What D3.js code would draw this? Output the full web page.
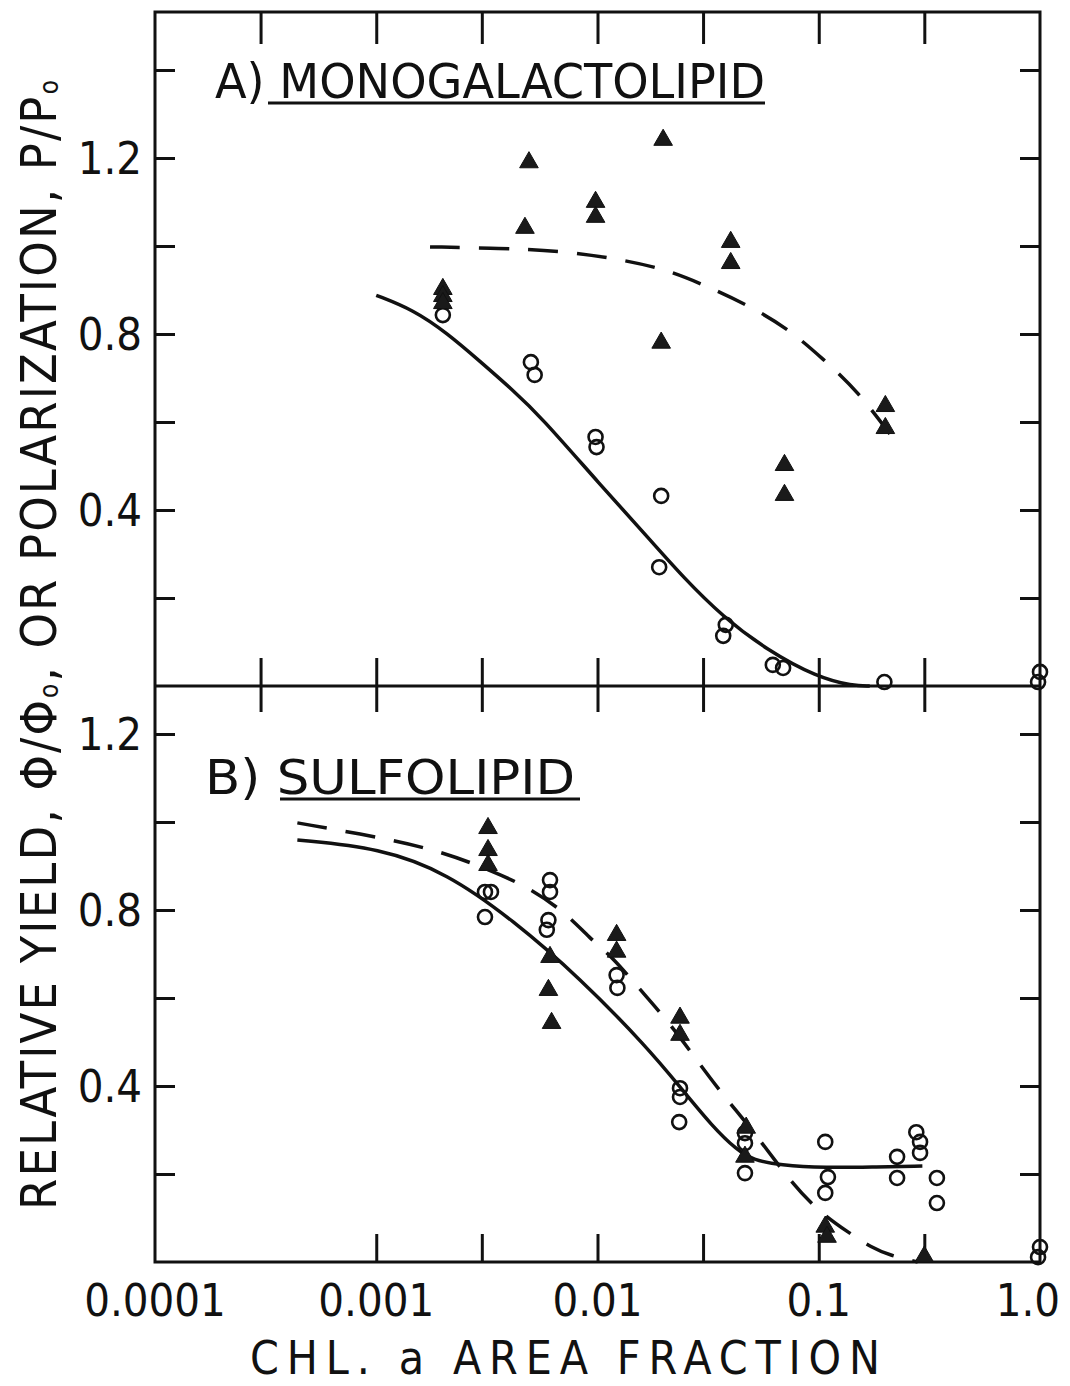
<!DOCTYPE html>
<html>
<head>
<meta charset="utf-8">
<script src="https://cdn.jsdelivr.net/npm/d3@7"></script>
<style>
  body { margin: 0; background: #fff; }
  text { font-family: "Liberation Sans Narrow", "DejaVu Sans Condensed", "Liberation Sans", sans-serif; fill: #111; }
</style>
</head>
<body>
<div id="chart"></div>
<script>
// ---- axis ticks / labels ----
const xMinorTicks = [0.0003, 0.001, 0.003, 0.01, 0.03, 0.1, 0.3];
const xBottomTicks = [0.001, 0.003, 0.01, 0.03, 0.1, 0.3];
const xLabelValues = [0.0001, 0.001, 0.01, 0.1, 1];
const xLabels = ['0.0001', '0.001', '0.01', '0.1', '1.0'];
const yTicksA = [0.2, 0.4, 0.6, 0.8, 1.0, 1.2, 1.4];
const yTicksB = [0.2, 0.4, 0.6, 0.8, 1.0, 1.2];
const yLabelValues = [0.4, 0.8, 1.2];

// ---- A) monogalactolipid ----
const monoCircles = [
  [0.002, 0.843], [0.005, 0.736], [0.0052, 0.707], [0.0098, 0.566], [0.0099, 0.543],
  [0.0194, 0.432], [0.019, 0.27], [0.038, 0.139], [0.037, 0.114],
  [0.062, 0.048], [0.069, 0.041], [0.198, 0.009], [1.0, 0.032], [0.98, 0.009]
];
const monoTriangles = [
  [0.002, 0.902], [0.002, 0.886], [0.002, 0.870], [0.0049, 1.19], [0.0047, 1.041],
  [0.0098, 1.10], [0.0098, 1.066], [0.0198, 1.241], [0.0194, 0.78],
  [0.040, 1.009], [0.040, 0.961], [0.070, 0.502], [0.070, 0.434],
  [0.2, 0.636], [0.2, 0.586]
];
const monoSolid = [
  [0.001, 0.888], [0.00147, 0.855], [0.00209, 0.802], [0.00294, 0.738], [0.00415, 0.672],
  [0.0055, 0.614], [0.0103, 0.457], [0.0173, 0.332], [0.0243, 0.248], [0.0369, 0.157],
  [0.0583, 0.082], [0.098, 0.02], [0.143, 0.0], [0.17, 0.0]
];
const monoDashed = [
  [0.00175, 0.998], [0.00362, 0.995], [0.00677, 0.989], [0.0116, 0.973], [0.0195, 0.95],
  [0.029, 0.916], [0.0479, 0.866], [0.0742, 0.809], [0.1045, 0.743], [0.149, 0.673],
  [0.228, 0.548]
];

// ---- B) sulfolipid ----
const sulfoCircles = [
  [0.0031, 0.841], [0.0033, 0.841], [0.0031, 0.784],
  [0.0061, 0.868], [0.0061, 0.841], [0.006, 0.777], [0.0059, 0.755],
  [0.0122, 0.652], [0.0123, 0.623],
  [0.0236, 0.395], [0.0236, 0.375], [0.0234, 0.318],
  [0.0464, 0.293], [0.0464, 0.27], [0.0464, 0.202],
  [0.107, 0.273], [0.11, 0.193], [0.107, 0.157],
  [0.226, 0.239], [0.226, 0.191],
  [0.276, 0.295], [0.287, 0.273], [0.287, 0.248],
  [0.342, 0.191], [0.342, 0.134],
  [1.0, 0.034], [0.98, 0.011]
];
const sulfoTriangles = [
  [0.0032, 0.986], [0.0032, 0.936], [0.0032, 0.902],
  [0.0061, 0.693], [0.006, 0.618], [0.0062, 0.543],
  [0.0122, 0.743], [0.0122, 0.705],
  [0.0236, 0.555], [0.0236, 0.516],
  [0.047, 0.305], [0.0464, 0.239],
  [0.107, 0.08], [0.109, 0.057],
  [0.30, 0.012]
];
const sulfoSolid = [
  [0.00044, 0.959], [0.00104, 0.941], [0.00209, 0.884], [0.00415, 0.777], [0.00834, 0.645],
  [0.0167, 0.489], [0.0236, 0.398], [0.0332, 0.307], [0.0426, 0.255], [0.0504, 0.232],
  [0.0666, 0.22], [0.108, 0.214], [0.175, 0.216], [0.294, 0.218]
];
const sulfoDashed = [
  [0.00044, 0.998], [0.00107, 0.964], [0.00194, 0.934], [0.00327, 0.891], [0.00495, 0.85],
  [0.0072, 0.793], [0.0092, 0.736], [0.0117, 0.693], [0.0152, 0.625], [0.0206, 0.55],
  [0.0271, 0.47], [0.036, 0.386], [0.0515, 0.293], [0.0723, 0.191], [0.098, 0.118],
  [0.137, 0.066], [0.175, 0.032], [0.21, 0.015], [0.28, 0.0]
];

const width = 1070, height = 1386;
const frame = { left: 155, right: 1040, top: 12, mid: 686, bottom: 1262 };

const svg = d3.select('#chart')
  .append('svg')
  .attr('width', width)
  .attr('height', height);

const x = d3.scaleLog().domain([0.0001, 1]).range([frame.left, frame.right]);
const yA = d3.scaleLinear().domain([0, (frame.mid - frame.top) / 440]).range([frame.mid, frame.top]);
const yB = d3.scaleLinear().domain([0, (frame.bottom - frame.mid) / 440]).range([frame.bottom, frame.mid]);

function styleAxis(g) {
  g.select('.domain').remove();
  g.selectAll('.tick line').attr('stroke', '#111').attr('stroke-width', 3);
  g.selectAll('.tick text').remove();
}

// x ticks
svg.append('g').attr('transform', `translate(0,${frame.top})`)
  .call(d3.axisTop(x).tickValues(xMinorTicks).tickSize(-32)).call(styleAxis);
svg.append('g').attr('transform', `translate(0,${frame.mid})`)
  .call(d3.axisBottom(x).tickValues(xMinorTicks).tickSize(-28)).call(styleAxis);
svg.append('g').attr('transform', `translate(0,${frame.mid})`)
  .call(d3.axisTop(x).tickValues(xMinorTicks).tickSize(-26)).call(styleAxis);
svg.append('g').attr('transform', `translate(0,${frame.bottom})`)
  .call(d3.axisBottom(x).tickValues(xBottomTicks).tickSize(-28)).call(styleAxis);

// y ticks, both sides, both panels
[[yA, yTicksA], [yB, yTicksB]].forEach(([y, ticks]) => {
  svg.append('g').attr('transform', `translate(${frame.left},0)`)
    .call(d3.axisLeft(y).tickValues(ticks).tickSize(-20)).call(styleAxis);
  svg.append('g').attr('transform', `translate(${frame.right},0)`)
    .call(d3.axisRight(y).tickValues(ticks).tickSize(-20)).call(styleAxis);
  svg.append('g').selectAll('text')
    .data(yLabelValues)
    .enter().append('text')
    .attr('x', 142)
    .attr('y', d => y(d))
    .attr('dy', '0.36em')
    .attr('text-anchor', 'end')
    .style('font-size', '45px')
    .text(d => d.toFixed(1));
});

// frame
svg.append('rect')
  .attr('x', frame.left).attr('y', frame.top)
  .attr('width', frame.right - frame.left).attr('height', frame.bottom - frame.top)
  .attr('fill', 'none').attr('stroke', '#111').attr('stroke-width', 3);
svg.append('line')
  .attr('x1', frame.left).attr('x2', frame.right).attr('y1', frame.mid).attr('y2', frame.mid)
  .attr('stroke', '#111').attr('stroke-width', 3);

// x labels (last one kept inside the page)
svg.append('g').selectAll('text')
  .data(xLabelValues)
  .enter().append('text')
  .attr('x', (d, i) => i === xLabelValues.length - 1 ? x(d) + 20 : x(d))
  .attr('y', 1316)
  .attr('text-anchor', (d, i) => i === xLabelValues.length - 1 ? 'end' : 'middle')
  .style('font-size', '45px')
  .text((d, i) => xLabels[i]);

// curves
function drawLine(data, y, dashed) {
  const line = d3.line()
    .x(d => x(d[0]))
    .y(d => y(d[1]))
    .curve(d3.curveBasis);
  svg.append('path')
    .datum(data)
    .attr('d', line)
    .attr('fill', 'none')
    .attr('stroke', '#111')
    .attr('stroke-width', 3.5)
    .attr('stroke-dasharray', dashed ? '30,19' : null);
}
drawLine(monoSolid, yA, false);
drawLine(monoDashed, yA, true);
drawLine(sulfoSolid, yB, false);
drawLine(sulfoDashed, yB, true);

// markers
function drawPoints(circles, triangles, y) {
  svg.append('g').selectAll('circle')
    .data(circles)
    .enter().append('circle')
    .attr('cx', d => x(d[0]))
    .attr('cy', d => y(d[1]))
    .attr('r', 7)
    .attr('fill', 'none')
    .attr('stroke', '#111')
    .attr('stroke-width', 2.6);
  svg.append('g').selectAll('path')
    .data(triangles)
    .enter().append('path')
    .attr('d', d3.symbol(d3.symbolTriangle, 150))
    .attr('transform', d => `translate(${x(d[0])},${y(d[1])})`)
    .attr('fill', '#1a1a1a')
    .attr('stroke', '#111')
    .attr('stroke-width', 1);
}
drawPoints(monoCircles, monoTriangles, yA);
drawPoints(sulfoCircles, sulfoTriangles, yB);

// panel titles
svg.append('text')
  .attr('x', 215).attr('y', 98)
  .attr('textLength', 550).attr('lengthAdjust', 'spacingAndGlyphs')
  .style('font-size', '48px')
  .text('A) MONOGALACTOLIPID');
svg.append('line')
  .attr('x1', 268).attr('x2', 765).attr('y1', 103).attr('y2', 103)
  .attr('stroke', '#111').attr('stroke-width', 3);
svg.append('text')
  .attr('x', 205).attr('y', 794)
  .attr('textLength', 370).attr('lengthAdjust', 'spacingAndGlyphs')
  .style('font-size', '48px')
  .text('B) SULFOLIPID');
svg.append('line')
  .attr('x1', 280).attr('x2', 580).attr('y1', 799).attr('y2', 799)
  .attr('stroke', '#111').attr('stroke-width', 3);

// axis titles
svg.append('text')
  .attr('x', 250).attr('y', 1374)
  .attr('textLength', 630).attr('lengthAdjust', 'spacing')
  .style('font-size', '46px')
  .text('CHL. a AREA FRACTION');

const yTitle = svg.append('text')
  .attr('transform', 'translate(56,1210) rotate(-90)')
  .attr('textLength', 1130).attr('lengthAdjust', 'spacing')
  .style('font-size', '50px');
yTitle.append('tspan').text('RELATIVE YIELD, Φ/Φ');
yTitle.append('tspan').attr('dy', '2').style('font-size', '26px').text('o');
yTitle.append('tspan').attr('dy', '-2').text(', OR POLARIZATION, P/P');
yTitle.append('tspan').attr('dy', '2').style('font-size', '26px').text('o');
</script>
</body>
</html>
